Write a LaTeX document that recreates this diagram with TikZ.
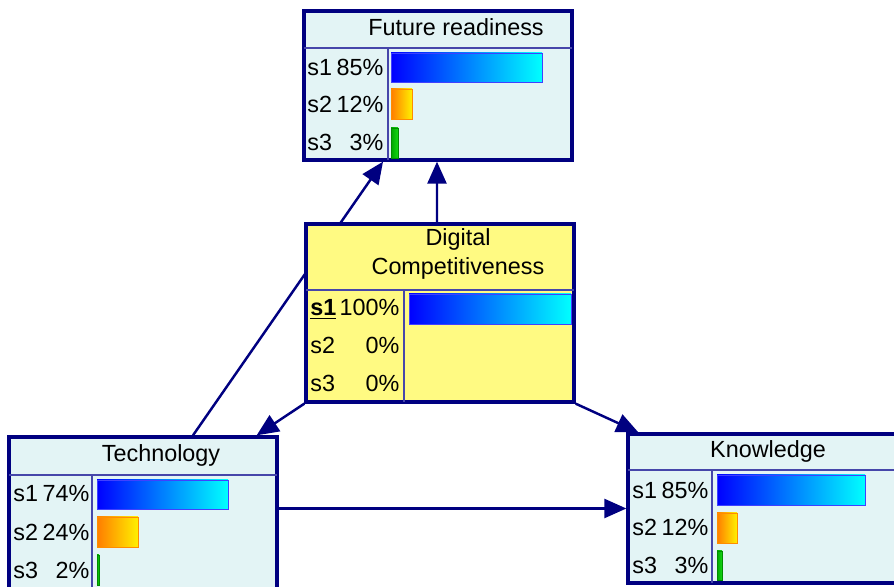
\documentclass[tikz,border=0pt]{standalone}
\usepackage{fontspec}
\setmainfont{Liberation Sans}
\usepackage{xcolor}
\definecolor{Col1}{RGB}{0,0,128}
\definecolor{Col2}{RGB}{227,244,245}
\definecolor{Col3}{RGB}{255,250,130}
\definecolor{Col4}{RGB}{70,70,170}
\usepackage{tikz}
\usetikzlibrary{arrows.meta}
\usetikzlibrary{backgrounds}
\tikzstyle{Box}=[rectangle,draw=Col1,line width=1.9pt,inner sep=0pt,
fill=Col2,minimum width=5.36cm,minimum height=2.98cm]
\tikzstyle{BoxDC}=[Box,fill=Col3,minimum height=3.56cm]
\tikzstyle{Title}=[font=\fontsize{13.3}{16.5}\selectfont,align=center,
inner sep=0pt]
\tikzstyle{Row}=[font=\fontsize{13.3}{15}\selectfont,anchor=west,
inner sep=0pt,text width=1.52cm]
\tikzstyle{Rule}=[draw=Col4,line width=0.6pt]
\tikzstyle{Edge}=[draw=Col1,line width=1.4pt,
-{Triangle[length=4.4mm,width=3.8mm]}]
\tikzstyle{BarA}=[left color=blue,right color=cyan,draw=blue!75!white,
line width=0.5pt]
\tikzstyle{BarB}=[left color={rgb,255:red,255;green,125;blue,0},
right color={rgb,255:red,255;green,240;blue,0},draw=orange!90!yellow,
line width=0.5pt]
\tikzstyle{BarC}=[left color={rgb,255:red,0;green,165;blue,0},
right color={rgb,255:red,20;green,215;blue,20},draw=green!55!black,
line width=0.5pt]

\begin{document}
\begin{tikzpicture}[x=0.02cm,y=-0.02cm]
        \path[use as bounding box,clip] (0,0) rectangle (894,587);
        \node[Box](fut)at(438,85.5){};
        \node[BoxDC](dig)at(440,313){};
        \node[Box,minimum height=3.22cm](tech)at(143,517.5){};
        \node[Box,minimum width=5.54cm](know)at(766.5,508.5){};
        \begin{scope}[on background layer]
        \draw[Edge]([xshift=1cm]tech.north)--([xshift=-1.1cm]fut.south);
        \draw[Edge]([xshift=-0.06cm]dig.north)--([xshift=-0.02cm]fut.south);
        \draw[Edge](dig.south west)--([xshift=-0.44cm]tech.north east);
        \draw[Edge](dig.south east)--([xshift=0.24cm]know.north west);
        \draw[Edge](tech.east |- know.west)--(know.west);
        \end{scope}
        \draw[Rule](304,48)--(572,48);
        \draw[Rule](388,48)--(388,160);
        \node[Title](futT)at(456,27){Future readiness};
        \node[Row](fut1)at(307,67){s1\hfill 85\%};
        \node[Row](fut2)at(307,104){s2\hfill 12\%};
        \node[Row](fut3)at(307,142){s3\hfill 3\%};
        \shadedraw[BarA](391,53)rectangle(542,82);
        \shadedraw[BarB](391,89)rectangle(412,119);
        \shadedraw[BarC](391,128)rectangle(398,158);
        \draw[Rule](306,290)--(574,290);
        \draw[Rule](404,290)--(404,402);
        \node[Title](digT)at(458,254){Digital\\Competitiveness};
        \node[Row,text width=1.78cm](dig1)at(310,309)
            {\underline{\textbf{s1}}\hfill 100\%};
        \node[Row,text width=1.78cm](dig2)at(310,345){s2\hfill 0\%};
        \node[Row,text width=1.78cm](dig3)at(310,383){s3\hfill 0\%};
        \shadedraw[BarA](409,294)rectangle(571,324);
        \draw[Rule](9,475)--(277,475);
        \draw[Rule](92,475)--(92,600);
        \node[Title](techT)at(161,455){Technology};
        \node[Row](tech1)at(13,494){s1\hfill 74\%};
        \node[Row](tech2)at(13,532){s2\hfill 24\%};
        \node[Row](tech3)at(13,570){s3\hfill 2\%};
        \shadedraw[BarA](97,480)rectangle(228,509);
        \shadedraw[BarB](97,517)rectangle(138,547);
        \shadedraw[BarC](97,555)rectangle(99,585);
        \draw[Rule](628,470)--(905,470);
        \draw[Rule](712,470)--(712,583);
        \node[Title](knowT)at(768,451){Knowledge};
        \node[Row](know1)at(632,490){s1\hfill 85\%};
        \node[Row](know2)at(632,527){s2\hfill 12\%};
        \node[Row](know3)at(632,565){s3\hfill 3\%};
        \shadedraw[BarA](717,475)rectangle(865,505);
        \shadedraw[BarB](717,513)rectangle(737,543);
        \shadedraw[BarC](717,551)rectangle(722,580);
    \end{tikzpicture}
\end{document}
